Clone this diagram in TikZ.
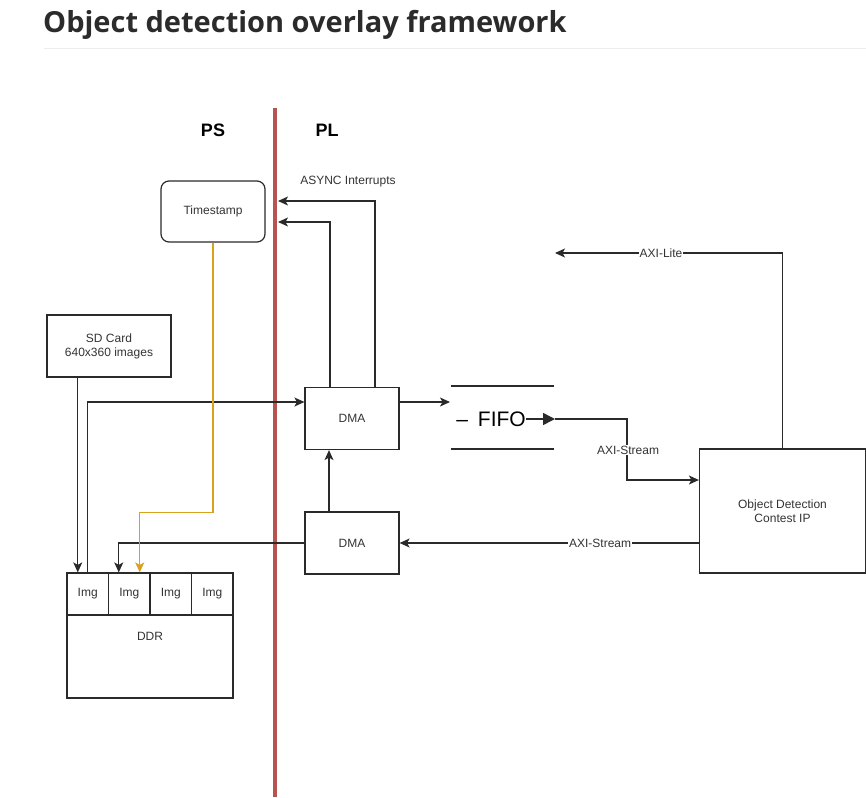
\documentclass[tikz,border=0pt]{standalone}
\usepackage{fontspec}
\setmainfont{Liberation Sans}
\newfontfamily\titlefont{Open Sans}
\usetikzlibrary{arrows.meta,positioning}
\definecolor{lncol}{HTML}{2A2A2A}
\definecolor{txcol}{HTML}{333333}
\definecolor{redln}{HTML}{B85450}
\definecolor{yelln}{HTML}{D9A21B}
\definecolor{titlecol}{HTML}{2B2B2B}
\tikzset{
  box/.style={draw=lncol, line width=1.2pt, text=txcol, align=center, inner sep=0pt, font=\fontsize{12}{14}\selectfont},
  rbox/.style={box, rounded corners=8pt},
  conn/.style={draw=lncol, line width=1.2pt},
  arr/.style={conn, -{Stealth[length=10pt,width=9pt,inset=2.5pt]}},
  yarr/.style={draw=yelln, line width=1.4pt, -{Stealth[length=10pt,width=9pt,inset=2.5pt]}},
  lbl/.style={fill=white, text=txcol, inner sep=1pt, font=\fontsize{12}{14}\selectfont},
  txt/.style={text=txcol, inner sep=0pt, font=\fontsize{12}{14}\selectfont},
  hdr/.style={text=black, inner sep=0pt, font=\fontsize{18}{20}\selectfont\bfseries},
}
\begin{document}
\begin{tikzpicture}[x=1pt,y=-1pt]
\useasboundingbox (0,0) rectangle (866,797);
% title
\node[anchor=base west, inner sep=0pt, text=titlecol, font=\titlefont\bfseries\fontsize{29}{33}\selectfont] (title) at (43,33) {Object detection overlay framework};
\coordinate (tl1) at (44,48);
\coordinate (tl2) at (866,48);
\draw[color=black!7, line width=0.8pt] (tl1) -- (tl2);
% red separator
\coordinate (redtop) at (275,108);
\coordinate (redbot) at (275,797);
\draw[redln, line width=4pt] (redtop) -- (redbot);
\node[hdr] (ps) at (213,130) {PS};
\node[hdr] (pl) at (327,130) {PL};
% nodes
\node[rbox, minimum width=104pt, minimum height=61pt] (ts) at (213,211.5) {Timestamp};
\node[box, minimum width=124pt, minimum height=62pt] (sd) at (109,346) {SD Card\\640x360 images};
\node[box, minimum width=94pt, minimum height=62pt] (dma1) at (352,418.5) {DMA};
\node[box, minimum width=94pt, minimum height=62pt] (dma2) at (352,543) {DMA};
\node[box, minimum width=166pt, minimum height=124pt] (obj) at (782.5,511) {Object Detection\\Contest IP};
% DDR
\node[box, minimum width=41.5pt, minimum height=42pt] (img1) at (87.75,594) {Img};
\node[box, minimum width=41.5pt, minimum height=42pt] (img2) at (129.25,594) {Img};
\node[box, minimum width=41.5pt, minimum height=42pt] (img3) at (170.75,594) {Img};
\node[box, minimum width=41.5pt, minimum height=42pt] (img4) at (212.25,594) {Img};
\node[box, minimum width=166pt, minimum height=83pt] (ddr) at (150,656.5) {};
\node[txt] (ddrlbl) at (150,636) {DDR};
% FIFO
\coordinate (f1a) at (451,386);
\coordinate (f1b) at (554,386);
\coordinate (f2a) at (451,449);
\coordinate (f2b) at (554,449);
\draw[lncol, line width=2pt] (f1a) -- (f1b);
\draw[lncol, line width=2pt] (f2a) -- (f2b);
\node[text=black, inner sep=0pt, font=\fontsize{21}{23}\selectfont] (fifo) at (491,419) {–\hspace{10pt}FIFO};
\coordinate (fifotip) at (555,419);
\draw[lncol, line width=1.5pt, -{Triangle[length=12pt,width=12pt]}] (fifo.east) -- (fifotip);
% interrupts
\coordinate (int1) at (278,201);
\coordinate (int2) at (278,222);
\node[txt] (async) at (348,182) {ASYNC Interrupts};
\draw[arr] ([xshift=23pt]dma1.north) |- (int1);
\draw[arr] ([xshift=-22pt]dma1.north) |- (int2);
% connections
\draw[arr] ([xshift=-10pt]img1.north |- sd.south) -- ([xshift=-10pt]img1.north);
\draw[arr] (img1.north) |- ([yshift=16.5pt]dma1.west);
\coordinate (fifoin) at (450,402);
\draw[arr] ([yshift=16.5pt]dma1.east) -- (fifoin);
\draw[arr] ([xshift=-23pt]dma2.north) -- ([xshift=-23pt]dma1.south);
\draw[arr] (dma2.west) -| ([xshift=-10.5pt]img2.north);
\draw[yarr] (ts.south) -- ++(0,270) -| ([xshift=10.5pt]img2.north);
\draw[arr] (fifotip) -- ++(72,0) |- ([yshift=31pt]obj.west);
\node[lbl] (axis1) at (628,450) {AXI-Stream};
\draw[arr] ([yshift=-32pt]obj.west) -- (dma2.east) node[lbl, pos=0.33] (axis2) {AXI-Stream};
\coordinate (liteend) at (555,253);
\draw[arr] (obj.north) |- (liteend) node[lbl, pos=0.767] (axil) {AXI-Lite};
\end{tikzpicture}
\end{document}
